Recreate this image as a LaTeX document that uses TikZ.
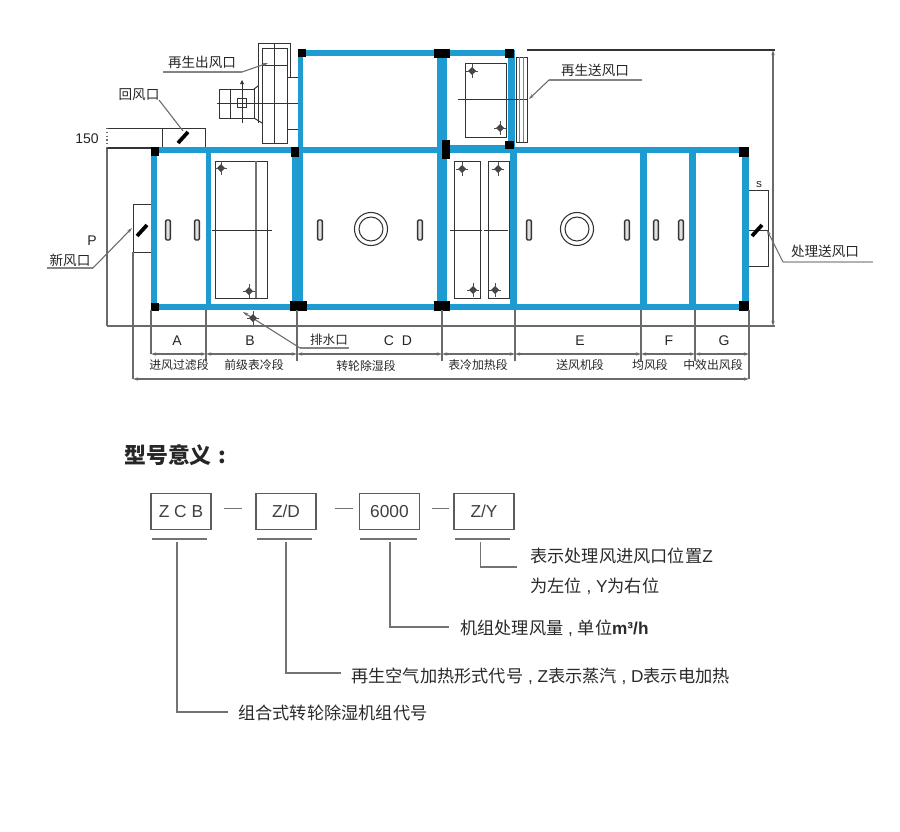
\documentclass[tikz,border=0pt]{standalone}
\usepackage{fontspec}
\setmainfont{Noto Sans CJK SC}
\setsansfont{Liberation Sans}
\usetikzlibrary{arrows.meta}
\definecolor{frameblue}{HTML}{1E9BD0}
\definecolor{darkline}{HTML}{333333}
\definecolor{leader}{HTML}{6A6A6A}
\definecolor{pale}{HTML}{858585}
\definecolor{legendtext}{HTML}{2A2A2A}
\tikzset{
  bluebar/.style={fill=frameblue,draw=none},
  corner/.style={fill=black,draw=none},
  thinline/.style={draw=darkline,line width=0.75pt},
  dimline/.style={draw=leader,line width=0.85pt},
  leaderline/.style={draw=leader,line width=0.8pt},
  paleline/.style={draw=pale,line width=1pt},
  dimarrow/.style={dimline,{Stealth[length=4pt,width=2.5pt]}-{Stealth[length=4pt,width=2.5pt]}},
  leadarrow/.style={leaderline,-{Stealth[length=4pt,width=2.5pt]}},
  damper/.style={draw=black,line width=2.8pt},
  slot/.style={draw=darkline,line width=1pt,fill=black!12,rounded corners=1pt},
  callout/.style={inner sep=0pt,font=\fontsize{10.2pt}{12pt}\selectfont,text=black!85},
  sectionlabel/.style={inner sep=0pt,font=\fontsize{8.9pt}{11pt}\selectfont,text=black!85},
  letter/.style={inner sep=0pt,font=\sffamily\fontsize{10.5pt}{12pt}\selectfont,text=black!85},
  legendlabel/.style={inner sep=0pt,anchor=west,font=\fontsize{12.9pt}{14pt}\selectfont,text=legendtext},
  codebox/.style={draw=darkline!80,line width=0.9pt,minimum width=45pt,minimum height=27.5pt,inner sep=0pt,font=\sffamily\fontsize{13pt}{15pt}\selectfont,text=black!75},
  legendline/.style={draw=black!55,line width=1pt},
}
\newcommand{\lat}[1]{{\sffamily #1}}
\newcommand{\valvemark}[2]{%
  \fill[black!75] (#1,#2-4) -- (#1+4,#2) -- (#1,#2+4) -- (#1-4,#2) -- cycle;
  \draw[black!70,line width=0.4pt] (#1,#2-7) -- (#1,#2+7) (#1-6,#2) -- (#1+6,#2);
}
\newcommand{\slotmark}[1]{\draw[slot] (#1-2.4,220) rectangle (#1+2.4,240);}
\begin{document}
\begin{tikzpicture}[x=0.75pt,y=-0.75pt]
\useasboundingbox[fill=white] (0,0) rectangle (900,832);

% --- outlet / inlet boxes and fan behind the frame
\draw[thinline] (162,147) -- (162,128) -- (205,128) -- (205,147);
\draw[thinline] (107,128) -- (162,128);
\draw[thinline] (151,204) -- (133,204) -- (133,252) -- (151,252);
\draw[thinline] (749,190) -- (768,190) -- (768,266) -- (749,266);
\draw[thinline] (749,230) -- (768,230);
\node[inner sep=0pt,font=\sffamily\fontsize{6.5pt}{7pt}\selectfont] (sMark) at (759,185) {S};

% fan
\draw[thinline] (258,123) -- (258,43) -- (290,43) -- (290,77);
\draw[thinline] (262,48) rectangle (287,143);
\draw[thinline] (274,43) -- (274,143) (262,65) -- (287,65);
\draw[thinline] (287,77) -- (298,77) (287,129) -- (298,129);
\draw[thinline] (219,89) rectangle (254,118);
\draw[thinline] (230,89) -- (230,118) (237,98) rectangle (246,107);
\draw[thinline] (242,82) -- (242,123) (217,103) -- (298,103);
\draw[thinline] (254,118) -- (262,123) (254,89) -- (258,86);
\fill[black!80] (242,80) -- (240,84) -- (244,84) -- cycle;

% --- blue frame
\fill[bluebar] (298,50) rectangle (510,56);
\fill[bluebar] (447,50) rectangle (514,56);
\fill[bluebar] (298,50) rectangle (303,153);
\fill[bluebar] (508,50) rectangle (515,147);
\fill[bluebar] (151,147) rectangle (447,153);
\fill[bluebar] (447,145) rectangle (510,153);
\fill[bluebar] (510,147) rectangle (749,153);
\fill[bluebar] (151,304) rectangle (749,310);
\fill[bluebar] (151,147) rectangle (157,310);
\fill[bluebar] (206,147) rectangle (211,310);
\fill[bluebar] (292,147) rectangle (303,310);
\fill[bluebar] (437,50) rectangle (447,310);
\fill[bluebar] (510,147) rectangle (517,310);
\fill[bluebar] (640,147) rectangle (647,310);
\fill[bluebar] (689,147) rectangle (696,310);
\fill[bluebar] (742,147) rectangle (749,310);

% black corners
\foreach \a/\b/\c/\d in {151/147/159/156,291/147/299/157,298/49/306/57,434/49/450/58,442/140/450/159,151/303/159/311,290/301/307/311,434/301/450/311,505/49/514/58,505/141/514/149,739/147/749/157,739/301/749/311}
  \fill[corner] (\a,\b) rectangle (\c,\d);

% --- coils
\draw[thinline] (215,161) rectangle (267,298);
\draw[draw=black!55,line width=0.8pt] (256,161) -- (256,298);
\draw[thinline] (212,230) -- (272,230);
\valvemark{221}{168}\valvemark{249}{291}

\draw[thinline] (454,161) rectangle (480,298);
\draw[thinline] (488,161) rectangle (509,298);
\draw[thinline] (450,230) -- (482,230) (484,230) -- (508,230);
\valvemark{462}{169}\valvemark{473}{290}\valvemark{498}{169}\valvemark{495}{290}

\draw[thinline] (465,63) rectangle (506,137);
\draw[thinline] (458,99) -- (528,99);
\valvemark{472}{71}\valvemark{500}{128}

% upper-right damper plate
\draw[thinline] (516,57) rectangle (527,142);
\draw[draw=black!50,line width=0.6pt] (519,57) -- (519,142) (523,57) -- (523,142);

% --- inspection slots and fan rings
\slotmark{168}\slotmark{197}\slotmark{320}\slotmark{420}
\slotmark{529}\slotmark{627}\slotmark{656}\slotmark{681}
\draw[darkline,line width=0.8pt] (371,229) circle[radius=12.4pt];
\draw[darkline,line width=0.8pt] (371,229) circle[radius=9pt];
\draw[darkline,line width=0.8pt] (577,229) circle[radius=12.4pt];
\draw[darkline,line width=0.8pt] (577,229) circle[radius=9pt];

% --- dampers
\draw[damper] (178,143) -- (188,132);
\draw[damper] (137,236) -- (147,225);
\draw[damper] (752,236) -- (762,225);

% --- overall dimensions
\coordinate (hTop) at (527,50);
\coordinate (hTopEnd) at (775,50);
\coordinate (hBotL) at (107,326);
\coordinate (hBotR) at (775,326);
\draw[dimline,draw=darkline] (hTop) -- (hTopEnd);
\draw[dimline] (hBotL) -- (hBotR);
\draw[dimarrow] (773,50) -- (773,326);
\draw[dimline] (107,148) -- (hBotL);
\draw[dimline,draw=darkline] (107,148) -- (151,148);
\draw[dimline,dotted] (107,128) -- (107,148);

% section ticks
\foreach \x/\e in {151/354,206/361,297/361,442/361,515/361,641/361,695/361}
  \draw[dimline] (\x,310) -- (\x,\e);
\draw[dimline] (749,310) -- (749,379);
\draw[dimline] (133,252) -- (133,379);
\foreach \a/\b in {151/206,206/297,297/442,442/515,515/641,641/695,695/749}
  \draw[dimarrow] (\a,354) -- (\b,354);
\draw[dimarrow] (133,379) -- (749,379);

% section letters and names
\node[letter] (la) at (177,341) {A};
\node[letter] (lb) at (250,341) {B};
\node[letter] (lc) at (389,341) {C};
\node[letter] (ld) at (407,341) {D};
\node[letter] (le) at (580,341) {E};
\node[letter] (lf) at (669,341) {F};
\node[letter] (lg) at (724,341) {G};
\node[sectionlabel] (s1) at (179,365) {进风过滤段};
\node[sectionlabel] (s2) at (254,365) {前级表冷段};
\node[sectionlabel] (s3) at (366,366) {转轮除湿段};
\node[sectionlabel] (s4) at (478,365) {表冷加热段};
\node[sectionlabel] (s5) at (580,365) {送风机段};
\node[sectionlabel] (s6) at (650,365) {均风段};
\node[sectionlabel] (s7) at (713,365) {中效出风段};

% dimension values
\node[letter] (v150) at (87,139) {150};
\node[letter] (vP) at (92,241) {P};

% --- callouts
\node[callout] (cA) at (202,62) {再生出风口};
\coordinate (cA1) at (163,72); \coordinate (cA2) at (242,72); \coordinate (cA3) at (268,63);
\draw[paleline] (cA1) -- (cA2);
\draw[leadarrow] (cA2) -- (cA3);

\node[callout] (cB) at (139,95) {回风口};
\coordinate (cB1) at (159,100); \coordinate (cB2) at (183,131);
\draw[leaderline] (cB1) -- (cB2);

\node[callout] (cC) at (70,260) {新风口};
\coordinate (cC1) at (47,268); \coordinate (cC2) at (93,268); \coordinate (cC3) at (132,228);
\draw[paleline] (cC1) -- (cC2);
\draw[leadarrow] (cC2) -- (cC3);

\node[callout,font=\fontsize{9.4pt}{11pt}\selectfont] (cD) at (329,340) {排水口};
\coordinate (cD1) at (349,348); \coordinate (cD2) at (300,348); \coordinate (cD3) at (243,312);
\draw[paleline] (cD1) -- (cD2);
\draw[leadarrow] (cD2) -- (cD3);
\valvemark{253}{318}

\node[callout] (cE) at (595,70) {再生送风口};
\coordinate (cE1) at (642,80); \coordinate (cE2) at (549,80); \coordinate (cE3) at (529,99);
\draw[paleline] (cE1) -- (cE2);
\draw[leadarrow] (cE2) -- (cE3);

\node[callout] (cF) at (825,251) {处理送风口};
\coordinate (cF1) at (873,262); \coordinate (cF2) at (783,262); \coordinate (cF3) at (767,230);
\draw[paleline,draw=black!30] (cF1) -- (cF2);
\draw[leadarrow] (cF2) -- (cF3);

% --- model code legend
\node[inner sep=0pt,anchor=west,font=\fontsize{16.4pt}{18pt}\selectfont\bfseries,text=black!85] (title) at (124,455) {型号意义\hspace{0.3em}:};

\node[codebox] (box1) at (181,511.5) {Z C B};
\node[codebox] (box2) at (286,511.5) {Z/D};
\node[codebox] (box3) at (389.5,511.5) {6000};
\node[codebox] (box4) at (484,511.5) {Z/Y};

\draw[legendline] (box1.east) ++(12,-3) coordinate (d1a) -- ++(18,0) coordinate (d1b);
\draw[legendline] (box2.east) ++(18,-3) coordinate (d2a) -- ++(18,0) coordinate (d2b);
\draw[legendline] (box3.east) ++(12,-3) coordinate (d3a) -- ++(17,0) coordinate (d3b);

\foreach \n/\a/\b in {u1/152/207,u2/257/312,u3/360/417,u4/455/510}{
  \coordinate (\n a) at (\a,539); \coordinate (\n b) at (\b,539);
  \draw[legendline] (\n a) -- (\n b);
}

\node[legendlabel] (t4a) at (530,556) {表示处理风进风口位置\lat{Z}};
\node[legendlabel] (t4b) at (530,586) {为左位\lat{ , Y}为右位};
\node[legendlabel] (t3) at (460,628) {机组处理风量\lat{ , }单位\lat{\textbf{m³/h}}};
\node[legendlabel] (t2) at (351,676) {再生空气加热形式代号\lat{ , Z}表示蒸汽\lat{ , D}表示电加热};
\node[legendlabel] (t1) at (238,713) {组合式转轮除湿机组代号};

\coordinate (q4) at (480.5,542); \coordinate (r4) at (517,567);
\coordinate (q3) at (390,542); \coordinate (r3) at (449,627);
\coordinate (q2) at (286,542); \coordinate (r2) at (341,673);
\coordinate (q1) at (177,542); \coordinate (r1) at (228,712);
\draw[legendline] (q4) |- (r4);
\draw[legendline] (q3) |- (r3);
\draw[legendline] (q2) |- (r2);
\draw[legendline] (q1) |- (r1);
\end{tikzpicture}
\end{document}
